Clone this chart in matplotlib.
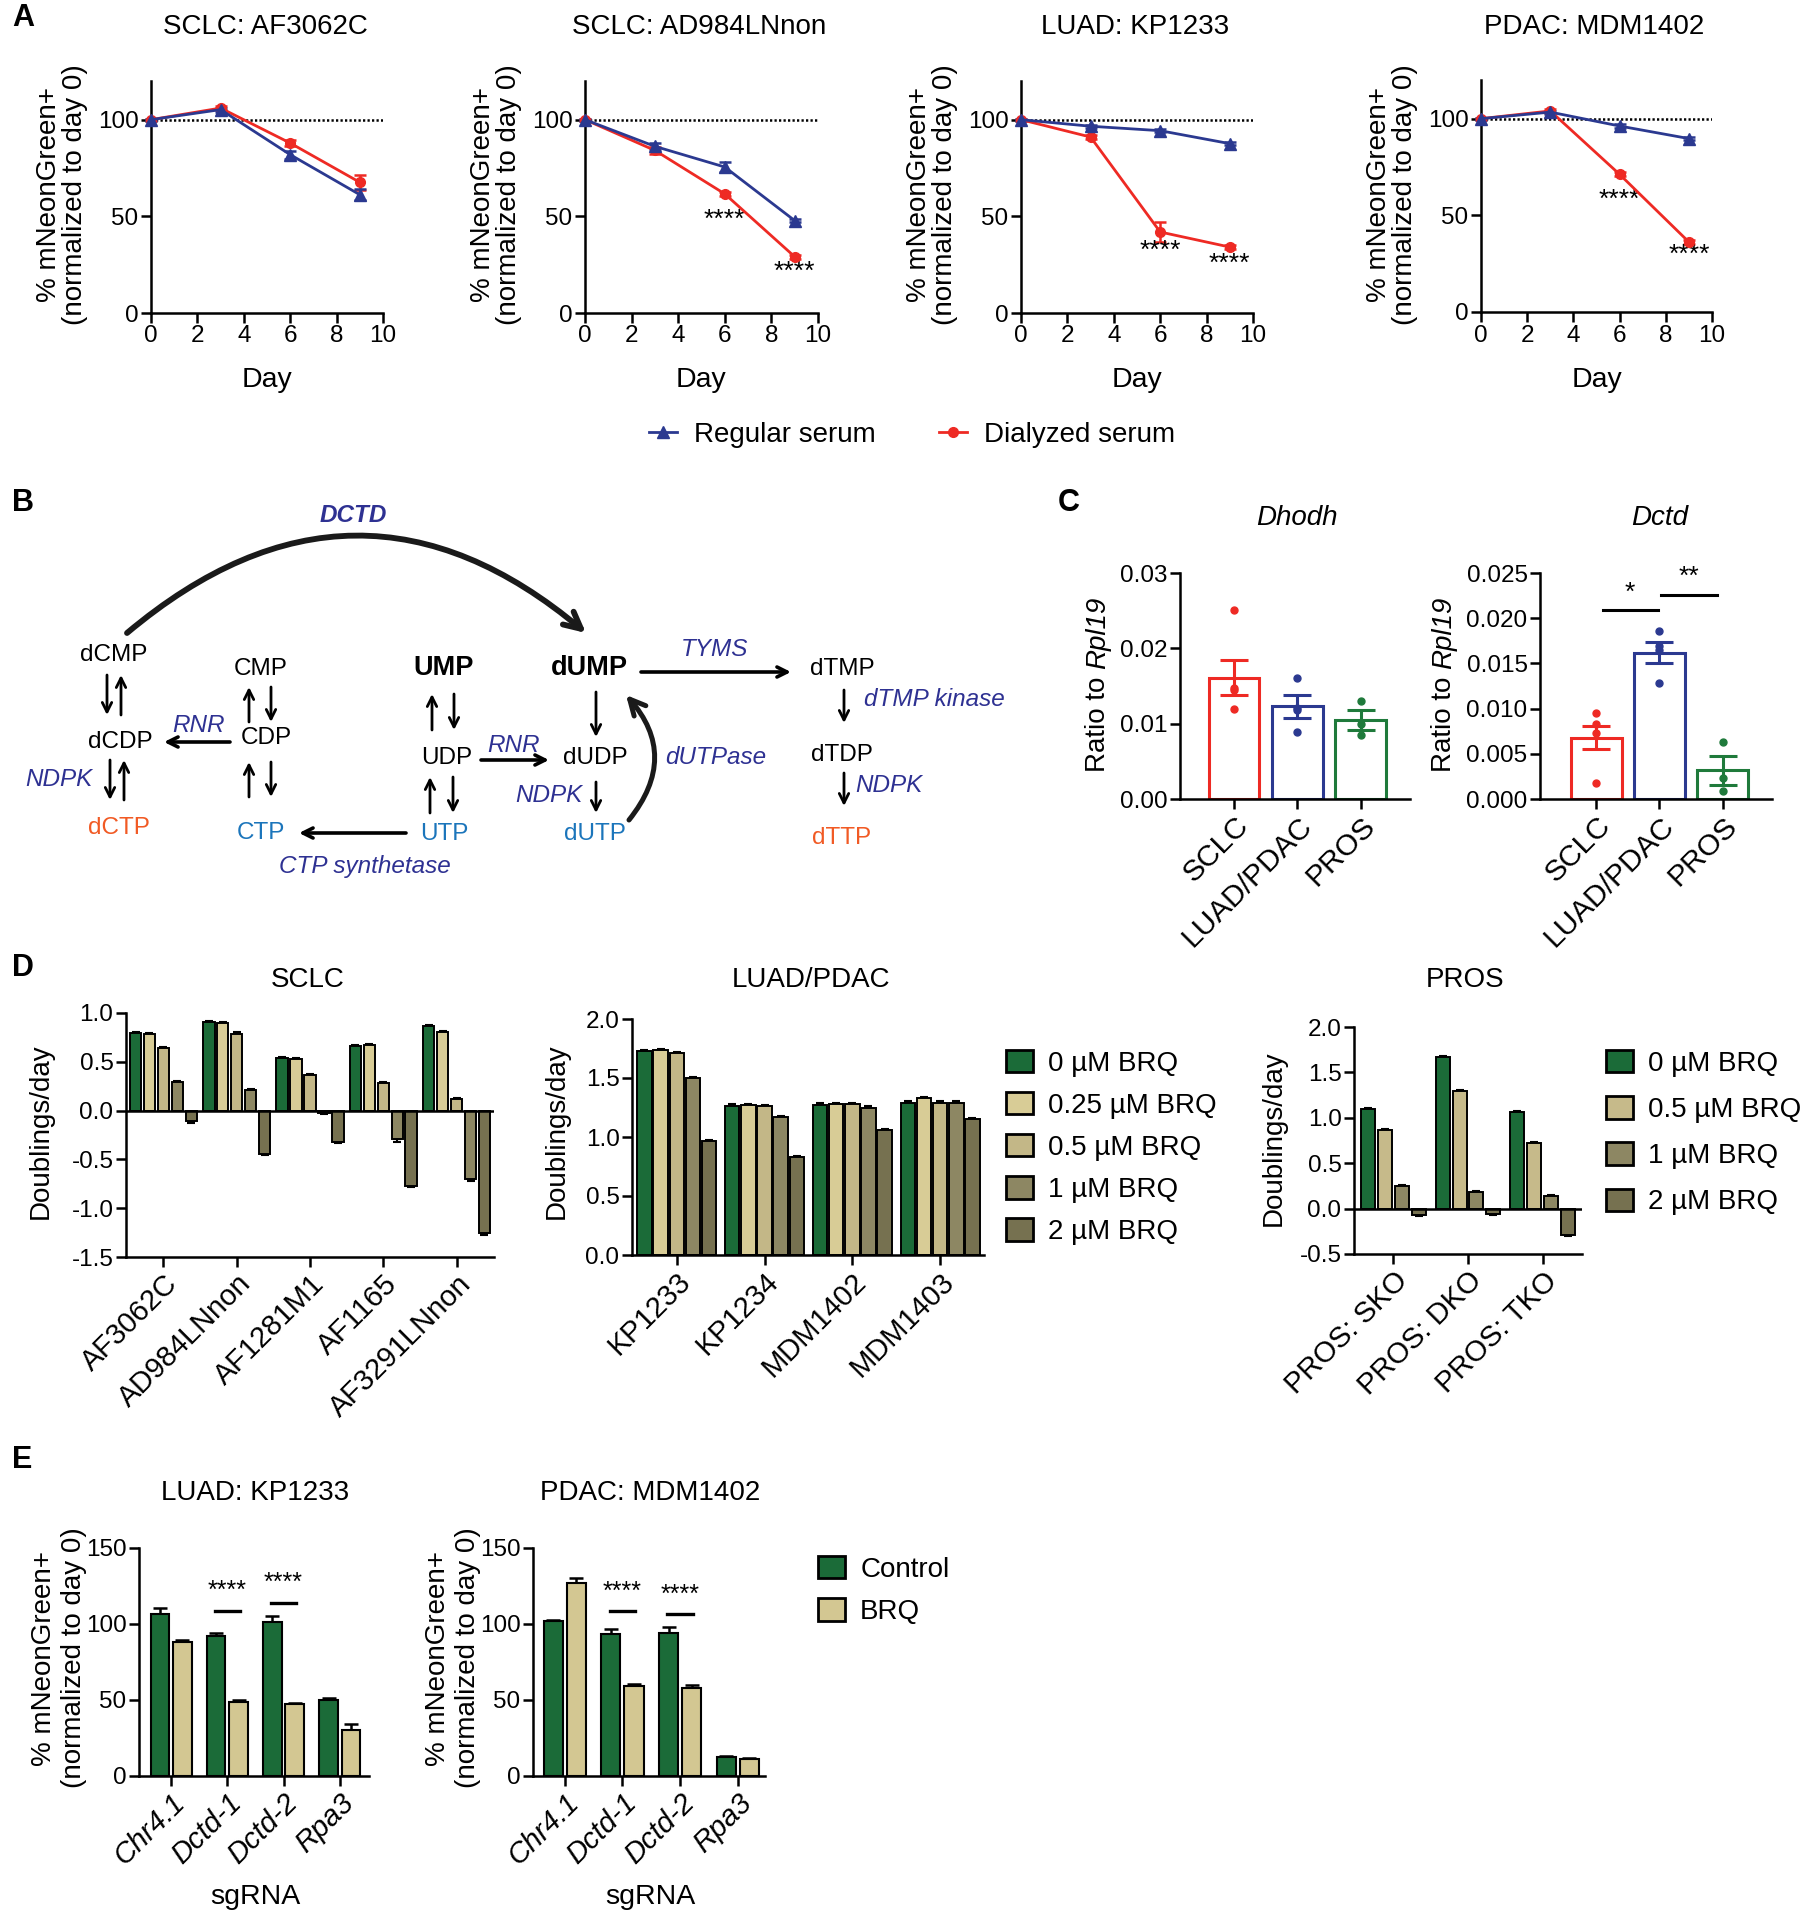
import numpy as np
import matplotlib
matplotlib.use('Agg')
import matplotlib.pyplot as plt
from matplotlib.patches import Patch, FancyArrowPatch
from matplotlib.lines import Line2D
from matplotlib.ticker import FormatStrFormatter

plt.rcParams['font.family'] = ['Liberation Sans', 'DejaVu Sans']
plt.rcParams['axes.unicode_minus'] = False

W, H = 1803, 1920
LW = 1.8
TICK = 17.5
LAB = 20
TTL = 20
CAT = 21

RED = '#ee2a24'
NAVY = '#2b3990'
CGREEN = '#1f7a3b'
ENZ = '#2e3192'
ORANGE = '#f15a24'
LBLUE = '#1b75bb'
DCOL = ['#1b6b38', '#d8cc96', '#c3b787', '#8d8763', '#767150']
PCOL = ['#1b6b38', '#c6ba8a', '#8d8763', '#767150']
ECOL = ['#1b6b38', '#d3c792']

# ---------------- data: panel A ----------------
days = [0, 3, 6, 9]
a_titles = ['SCLC: AF3062C', 'SCLC: AD984LNnon', 'LUAD: KP1233', 'PDAC: MDM1402']
a_regular = [[100, 105.2, 81.9, 61.2], [100, 86.2, 75.5, 47.8],
             [100, 96.6, 94.3, 87.6], [100, 103.4, 96.2, 89.7]]
a_regular_err = [[0.5, 1.0, 2.0, 3.0], [0.5, 1.5, 2.5, 0.8],
                 [0.5, 0.8, 0.8, 0.8], [0.5, 0.8, 1.2, 0.8]]
a_dialyzed = [[100, 106.0, 87.9, 67.6], [100, 84.1, 61.6, 29.1],
              [100, 91.0, 41.9, 34.1], [100, 104.0, 71.2, 36.2]]
a_dialyzed_err = [[0.5, 1.0, 1.5, 4.0], [0.5, 2.0, 1.0, 1.0],
                  [0.5, 1.0, 5.0, 1.0], [0.5, 1.0, 1.0, 1.0]]
a_star_days = [[], [6, 9], [6, 9], [6, 9]]
a_star_y = [[], [48, 21.5], [32, 25.3], [57.8, 29.3]]

# ---------------- data: panel C ----------------
c_groups = ['SCLC', 'LUAD/PDAC', 'PROS']
dhodh_mean = [0.0161, 0.0123, 0.0105]
dhodh_sem = [0.0023, 0.0015, 0.0013]
dhodh_pts = [[0.0251, 0.0147, 0.0145, 0.0119], [0.0160, 0.0121, 0.0118, 0.0089],
             [0.0130, 0.0100, 0.0085]]
dctd_mean = [0.0068, 0.0162, 0.0032]
dctd_sem = [0.0013, 0.0012, 0.0016]
dctd_pts = [[0.0095, 0.0083, 0.0073, 0.0018], [0.0186, 0.0169, 0.0165, 0.0128],
            [0.0063, 0.0023, 0.0009]]

# ---------------- data: panel D ----------------
sclc_lines = ['AF3062C', 'AD984LNnon', 'AF1281M1', 'AF1165', 'AF3291LNnon']
sclc_rates = [[0.796, 0.908, 0.541, 0.667, 0.871],      # 0 uM
              [0.786, 0.898, 0.527, 0.670, 0.806],      # 0.25 uM
              [0.643, 0.789, 0.364, 0.286, 0.119],      # 0.5 uM
              [0.289, 0.211, -0.020, -0.289, -0.700],   # 1 uM
              [-0.109, -0.442, -0.323, -0.769, -1.258]] # 2 uM
sclc_err = [[0.01, 0.01, 0.01, 0.01, 0.01],
            [0.01, 0.01, 0.01, 0.01, 0.01],
            [0.01, 0.02, 0.01, 0.01, 0.01],
            [0.01, 0.01, 0.01, 0.03, 0.02],
            [0.02, 0.01, 0.01, 0.01, 0.02]]
luad_lines = ['KP1233', 'KP1234', 'MDM1402', 'MDM1403']
luad_rates = [[1.729, 1.266, 1.274, 1.285],
              [1.737, 1.268, 1.282, 1.328],
              [1.712, 1.263, 1.277, 1.291],
              [1.500, 1.172, 1.249, 1.291],
              [0.966, 0.828, 1.059, 1.150]]
luad_err = [[0.01, 0.01, 0.01, 0.02],
            [0.01, 0.01, 0.01, 0.01],
            [0.01, 0.01, 0.01, 0.01],
            [0.01, 0.01, 0.01, 0.01],
            [0.01, 0.01, 0.01, 0.01]]
luad_doses = ['0 µM BRQ', '0.25 µM BRQ', '0.5 µM BRQ', '1 µM BRQ', '2 µM BRQ']
pros_lines = ['PROS: SKO', 'PROS: DKO', 'PROS: TKO']
pros_rates = [[1.093, 1.671, 1.060],
              [0.867, 1.294, 0.720],
              [0.245, 0.179, 0.135],
              [-0.073, -0.058, -0.296]]
pros_err = [[0.01, 0.01, 0.02],
            [0.01, 0.01, 0.01],
            [0.01, 0.02, 0.01],
            [0.01, 0.01, 0.01]]
pros_doses = ['0 µM BRQ', '0.5 µM BRQ', '1 µM BRQ', '2 µM BRQ']

# ---------------- data: panel E ----------------
e_guides = ['Chr4.1', 'Dctd-1', 'Dctd-2', 'Rpa3']
e_titles = ['LUAD: KP1233', 'PDAC: MDM1402']
e_ctrl = [[106.6, 91.8, 101.0, 49.9], [101.8, 93.5, 94.2, 12.5]]
e_ctrl_err = [[4.2, 2.4, 4.5, 1.6], [1.1, 3.5, 3.9, 0.6]]
e_brq = [[88.2, 48.6, 47.1, 30.0], [127.2, 59.1, 57.6, 11.4]]
e_brq_err = [[1.6, 1.3, 0.6, 4.2], [3.1, 1.3, 2.2, 0.6]]
e_sig_x = [[1, 2], [1, 2]]
e_sig_y = [[108.8, 114.0], [108.4, 106.4]]

fig = plt.figure(figsize=(W / 100, H / 100), dpi=100)
fig.patch.set_facecolor('white')
renderer = fig.canvas.get_renderer()


def box(l, t, r, b):
    return fig.add_axes([l / W, 1 - b / H, (r - l) / W, (b - t) / H])


def ftext(x, y, s, **kw):
    kw.setdefault('ha', 'center')
    kw.setdefault('va', 'center')
    return fig.text(x / W, 1 - y / H, s, **kw)


def rpl19_label(x, yc, size):
    # "Ratio to " upright + "Rpl19" italic, rotated, centred on yc
    t1 = ftext(x, yc, 'Ratio to', rotation=90, fontsize=size, va='bottom')
    t2 = ftext(x, yc, 'Rpl19', rotation=90, fontsize=size, va='bottom', fontstyle='italic')
    h1 = t1.get_window_extent(renderer).height
    h2 = t2.get_window_extent(renderer).height
    gap = 0.28 * size * 100 / 72
    total = h1 + gap + h2
    y0 = (H - yc) - total / 2
    t1.set_y(y0 / H)
    t2.set_y((y0 + h1 + gap) / H)


def frame(ax, size=TICK):
    ax.spines['top'].set_visible(False)
    ax.spines['right'].set_visible(False)
    ax.spines['left'].set_linewidth(LW)
    ax.spines['bottom'].set_linewidth(LW)
    ax.tick_params(width=LW, length=7, labelsize=size, pad=2)
    ax.patch.set_alpha(0)


def grouped(ax, rows, errs, colors, spacing, width):
    n = len(rows)
    x = np.arange(len(rows[0]))
    for i, (vals, ev, c) in enumerate(zip(rows, errs, colors)):
        xs = x + (i - (n - 1) / 2) * spacing
        vals = np.array(vals)
        ev = np.array(ev)
        lo = np.where(vals < 0, ev, 0)
        hi = np.where(vals >= 0, ev, 0)
        ax.errorbar(xs, vals, yerr=[lo, hi], fmt='none', ecolor='k',
                    elinewidth=1.5, capsize=3, capthick=1.5, zorder=1)
        ax.bar(xs, vals, width=width, color=c, edgecolor='k', linewidth=1.4, zorder=2)
    ax.set_xticks(x)


def swatch_legend(colors, labels, x, y, spacing):
    fig.legend([Patch(facecolor=c, edgecolor='k', linewidth=2) for c in colors], labels,
               loc='upper left', bbox_to_anchor=(x / W, 1 - y / H), frameon=False,
               fontsize=LAB, handlelength=0.97, handleheight=0.86, handletextpad=0.55,
               labelspacing=spacing, borderpad=0, borderaxespad=0)


# panel letters
for letter, (x, y) in zip('ABCDE', [(12, 18), (12, 503), (1058, 503), (12, 968), (12, 1460)]):
    ftext(x, y, letter, ha='left', fontsize=22, fontweight='bold')

# ---------------- panel A ----------------
a_rects = [(151, 81, 383, 313), (585, 81, 818, 313), (1021, 81, 1253, 313), (1481, 80, 1712, 312)]
for k, rc in enumerate(a_rects):
    ax = box(*rc)
    frame(ax)
    ax.plot([0, 10], [100, 100], color='k', lw=1.8, ls=(0, (0.9, 0.9)), zorder=1)
    ax.errorbar(days, a_dialyzed[k], yerr=a_dialyzed_err[k], color=RED, marker='o', ms=7,
                lw=2, capsize=4, elinewidth=1.8, capthick=1.8, zorder=3, clip_on=False)
    ax.errorbar(days, a_regular[k], yerr=a_regular_err[k], color=NAVY, marker='^', ms=8,
                lw=2, capsize=4, elinewidth=1.8, capthick=1.8, zorder=3, clip_on=False)
    for d, yv in zip(a_star_days[k], a_star_y[k]):
        ax.text(d, yv, '****', ha='center', va='center', fontsize=19)
    ax.set_xlim(0, 10)
    ax.set_ylim(0, 120)
    ax.set_xticks([0, 2, 4, 6, 8, 10])
    ax.set_yticks([0, 50, 100])
    cx = (rc[0] + rc[2]) / 2
    ftext(cx - 2, 27, a_titles[k], fontsize=TTL)
    ftext(cx, 380, 'Day', fontsize=LAB + 0.5)
    ftext(rc[0] - 89, 195, '% mNeonGreen+\n(normalized to day 0)', rotation=90,
          fontsize=LAB, linespacing=1.0)

a_handles = [Line2D([], [], color=NAVY, marker='^', ms=8, lw=2),
             Line2D([], [], color=RED, marker='o', ms=7, lw=2)]
fig.legend(a_handles, ['Regular serum', 'Dialyzed serum'], loc='center',
           bbox_to_anchor=(912 / W, 1 - 435 / H), ncol=2, frameon=False, fontsize=LAB,
           handlelength=1.0, handletextpad=0.6, columnspacing=2.3)

# ---------------- panel B (pathway scheme) ----------------
axb = box(0, 480, 1000, 890)
axb.set_xlim(0, 1000)
axb.set_ylim(890, 480)
axb.axis('off')

b_nodes = ['dCMP', 'CMP', 'UMP', 'dUMP', 'dTMP', 'dCDP', 'CDP', 'UDP', 'dUDP', 'dTDP',
           'dCTP', 'CTP', 'UTP', 'dUTP', 'dTTP']
b_node_xy = [(114, 655), (261, 669), (444, 668), (589, 668), (842, 669),
             (120, 742), (266, 738), (447, 758), (595, 758), (842, 755),
             (119, 828), (261, 833), (444, 834), (595, 834), (842, 838)]
b_node_col = ['k', 'k', 'k', 'k', 'k', 'k', 'k', 'k', 'k', 'k',
              ORANGE, LBLUE, LBLUE, LBLUE, ORANGE]
for name, (x, y), c in zip(b_nodes, b_node_xy, b_node_col):
    bold = name in ('UMP', 'dUMP')
    axb.text(x, y, name, ha='center', va='center', color=c,
             fontsize=19.5 if bold else 17.5, fontweight='bold' if bold else 'normal')

b_enz = ['DCTD', 'TYMS', 'dTMP kinase', 'RNR', 'NDPK', 'RNR', 'NDPK', 'dUTPase', 'NDPK',
         'CTP synthetase']
b_enz_xy = [(353, 516), (715, 650), (934, 699), (199, 725), (59, 780), (514, 746),
            (549, 795), (716, 757), (889, 785), (365, 867)]
for name, (x, y) in zip(b_enz, b_enz_xy):
    axb.text(x, y, name, ha='center', va='center', color=ENZ, fontsize=17.5,
             fontstyle='italic', fontweight='bold' if name == 'DCTD' else 'normal')

b_thin = [((107, 675), (107, 715)), ((121, 715), (121, 675)),
          ((110, 760), (110, 800)), ((124, 800), (124, 760)),
          ((249, 722), (249, 687)), ((271, 687), (271, 722)),
          ((249, 797), (249, 762)), ((271, 762), (271, 797)),
          ((432, 730), (432, 694)), ((454, 694), (454, 730)),
          ((430, 813), (430, 777)), ((453, 777), (453, 813)),
          ((596, 692), (596, 737)), ((596, 782), (596, 813)),
          ((844, 690), (844, 723)), ((844, 773), (844, 806))]
for p0, p1 in b_thin:
    axb.annotate('', xy=p1, xytext=p0,
                 arrowprops=dict(arrowstyle='->', lw=2.0, color='k', shrinkA=0, shrinkB=0,
                                 mutation_scale=17))
b_thick = [((230, 742), (164, 742)), ((406, 833), (299, 833)),
           ((481, 760), (549, 760)), ((641, 672), (791, 672))]
for p0, p1 in b_thick:
    axb.annotate('', xy=p1, xytext=p0,
                 arrowprops=dict(arrowstyle='->', lw=2.6, color='k', shrinkA=0, shrinkB=0,
                                 mutation_scale=18))
axb.add_patch(FancyArrowPatch((127, 633), (586, 633), connectionstyle='arc3,rad=-0.42',
                              arrowstyle='->', lw=4.2, color='#1a1a1a', mutation_scale=30,
                              shrinkA=0, shrinkB=0))
axb.add_patch(FancyArrowPatch((629, 820), (626, 695), connectionstyle='arc3,rad=0.42',
                              arrowstyle='->', lw=3.6, color='#1a1a1a', mutation_scale=28,
                              shrinkA=0, shrinkB=0))

# ---------------- panel C ----------------
c_cols = [RED, NAVY, CGREEN]
c_specs = [((1180, 573, 1410, 799), dhodh_mean, dhodh_sem, dhodh_pts, 0.03, 0.01, '%.2f',
            (-0.856, 2.78), 'Dhodh', 1297, 1098),
           ((1540, 573, 1772, 799), dctd_mean, dctd_sem, dctd_pts, 0.025, 0.005, '%.3f',
            (-0.89, 2.78), 'Dctd', 1660, 1444)]
for rc, means, sems, pts, top, step, fmt, xl, gene, tx, lx in c_specs:
    ax = box(*rc)
    frame(ax)
    x = np.arange(3)
    ax.bar(x, means, width=0.8, facecolor='white', edgecolor=c_cols, linewidth=2.2, zorder=1)
    for i in range(3):
        ax.errorbar(i, means[i], yerr=sems[i], color=c_cols[i], capsize=10,
                    elinewidth=2.2, capthick=2.2, zorder=2)
        ax.plot([i] * len(pts[i]), pts[i], 'o', color=c_cols[i], ms=5, zorder=3, clip_on=False)
    ax.set_xlim(*xl)
    ax.set_ylim(0, top)
    ax.set_yticks(np.arange(0, top + step / 2, step))
    ax.yaxis.set_major_formatter(FormatStrFormatter(fmt))
    ax.set_xticks(x)
    ax.set_xticklabels(c_groups, rotation=45, ha='right', rotation_mode='anchor', fontsize=CAT + 0.5)
    ftext(tx, 518, gene, fontsize=TTL, fontstyle='italic')
    rpl19_label(lx, 684, LAB)
    if gene == 'Dctd':
        ax.plot([0.1, 0.97], [0.0209, 0.0209], color='k', lw=2.2, clip_on=False)
        ax.plot([1.03, 1.91], [0.0226, 0.0226], color='k', lw=2.2, clip_on=False)
        ax.text(0.53, 0.0228, '*', ha='center', va='center', fontsize=19)
        ax.text(1.47, 0.0246, '**', ha='center', va='center', fontsize=19)

# ---------------- panel D ----------------
ax = box(126, 1013, 494, 1257)
frame(ax)
grouped(ax, sclc_rates, sclc_err, DCOL, 0.19, 0.155)
ax.axhline(0, color='k', lw=LW, zorder=3)
ax.set_xlim(-0.51, 4.51)
ax.set_ylim(-1.5, 1.0)
ax.set_yticks([-1.5, -1.0, -0.5, 0.0, 0.5, 1.0])
ax.yaxis.set_major_formatter(FormatStrFormatter('%.1f'))
ax.set_xticklabels(sclc_lines, rotation=45, ha='right', rotation_mode='anchor', fontsize=CAT)
ftext(308, 980, 'SCLC', fontsize=TTL)
ftext(41, 1131, 'Doublings/day', rotation=90, fontsize=LAB)

ax = box(632, 1019, 984, 1255)
frame(ax)
grouped(ax, luad_rates, luad_err, DCOL, 0.184, 0.165)
ax.set_xlim(-0.51, 3.50)
ax.set_ylim(0, 2.0)
ax.set_yticks([0, 0.5, 1.0, 1.5, 2.0])
ax.yaxis.set_major_formatter(FormatStrFormatter('%.1f'))
ax.set_xticklabels(luad_lines, rotation=45, ha='right', rotation_mode='anchor', fontsize=CAT)
ftext(811, 980, 'LUAD/PDAC', fontsize=TTL)
ftext(557, 1131, 'Doublings/day', rotation=90, fontsize=LAB)
swatch_legend(DCOL, luad_doses, 1006, 1050, 0.55)

ax = box(1354, 1027, 1582, 1254)
frame(ax)
grouped(ax, pros_rates, pros_err, PCOL, 0.225, 0.19)
ax.axhline(0, color='k', lw=LW, zorder=3)
ax.set_xlim(-0.53, 2.53)
ax.set_ylim(-0.5, 2.0)
ax.set_yticks([-0.5, 0, 0.5, 1.0, 1.5, 2.0])
ax.yaxis.set_major_formatter(FormatStrFormatter('%.1f'))
ax.set_xticklabels(pros_lines, rotation=45, ha='right', rotation_mode='anchor', fontsize=CAT)
ftext(1465, 980, 'PROS', fontsize=TTL)
ftext(1274, 1138, 'Doublings/day', rotation=90, fontsize=LAB)
swatch_legend(PCOL, pros_doses, 1606, 1050, 0.70)

# ---------------- panel E ----------------
e_rects = [(139, 1548, 369, 1776), (533, 1548, 765, 1776)]
e_xlims = [(-0.57, 3.52), (-0.55, 3.47)]
for k, rc in enumerate(e_rects):
    ax = box(*rc)
    frame(ax)
    x = np.arange(4)
    for vals, errs, c, off in [(e_ctrl[k], e_ctrl_err[k], ECOL[0], -0.2),
                               (e_brq[k], e_brq_err[k], ECOL[1], 0.2)]:
        ax.errorbar(x + off, vals, yerr=[np.zeros(4), errs], fmt='none', ecolor='k',
                    elinewidth=1.8, capsize=5, capthick=1.8, zorder=1)
        ax.bar(x + off, vals, width=0.33, color=c, edgecolor='k', linewidth=1.5, zorder=2)
    for sx, sy in zip(e_sig_x[k], e_sig_y[k]):
        ax.plot([sx - 0.22, sx + 0.22], [sy, sy], color='k', lw=2.4)
        ax.text(sx, sy + 13, '****', ha='center', va='center', fontsize=18)
    ax.set_xlim(*e_xlims[k])
    ax.set_ylim(0, 150)
    ax.set_yticks([0, 50, 100, 150])
    ax.set_xticks(x)
    ax.set_xticklabels(e_guides, rotation=45, ha='right', rotation_mode='anchor',
                       fontsize=CAT, fontstyle='italic')
    cx = (rc[0] + rc[2]) / 2
    ftext(cx + 1, 1493, e_titles[k], fontsize=TTL)
    ftext(cx + 1, 1897, 'sgRNA', fontsize=LAB + 0.5)
    ftext(rc[0] - 80, 1658, '% mNeonGreen+\n(normalized to day 0)', rotation=90,
          fontsize=LAB, linespacing=1.2)

swatch_legend(ECOL, ['Control', 'BRQ'], 818, 1556, 0.56)

fig.savefig('out.png', dpi=100)
